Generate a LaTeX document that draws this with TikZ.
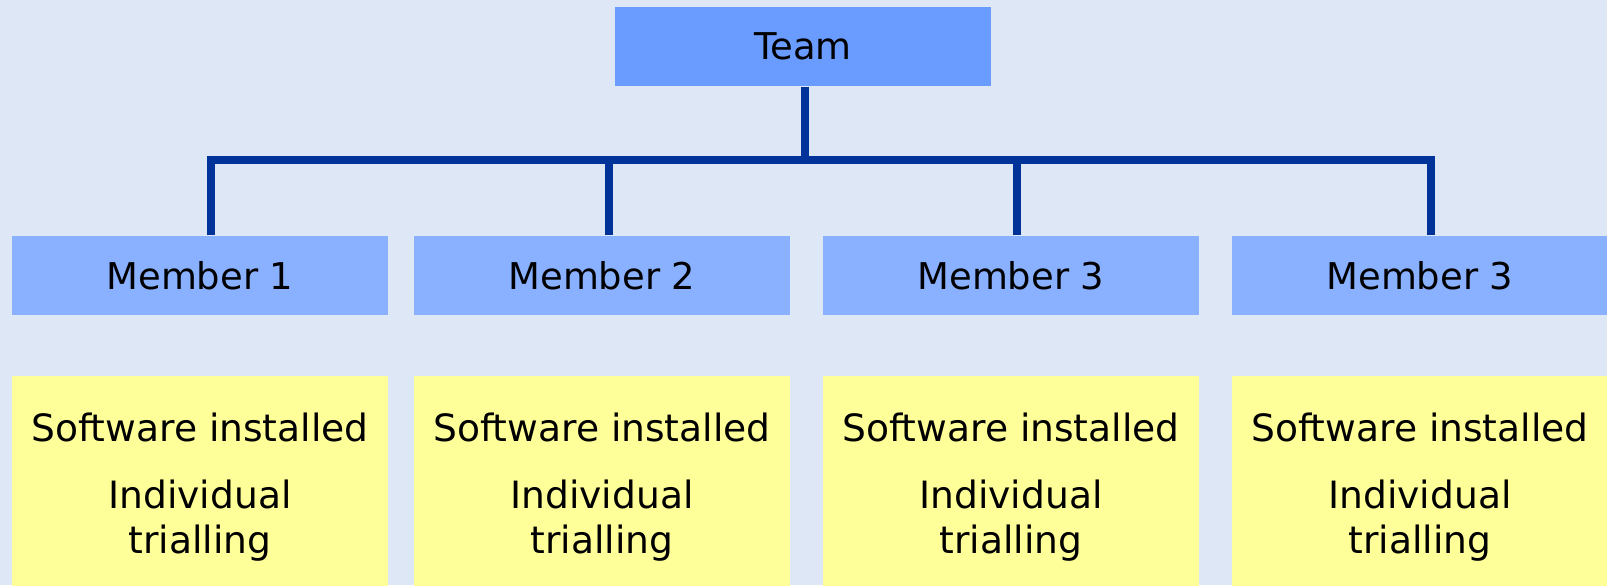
\documentclass[tikz,border=0pt]{standalone}
\usepackage{fontspec}
\setmainfont{DejaVu Sans}
\definecolor{bgblue}{RGB}{222, 231, 245}
\definecolor{teamblue}{RGB}{106, 156, 255}
\definecolor{memberblue}{RGB}{138, 177, 255}
\definecolor{noteyellow}{RGB}{255, 255, 153}
\definecolor{linkblue}{RGB}{0, 51, 153}
\usetikzlibrary{positioning}
\tikzset{
  teambox/.style={fill=teamblue, minimum width=3.76cm, minimum height=0.79cm, inner sep=0pt, font=\fontsize{10.5}{12.8}\selectfont},
  memberbox/.style={fill=memberblue, minimum width=3.76cm, minimum height=0.79cm, inner sep=0pt, font=\fontsize{10.5}{12.8}\selectfont},
  notebox/.style={fill=noteyellow, minimum width=3.76cm, minimum height=2.1cm, inner sep=0pt, align=center, font=\fontsize{10.7}{12.8}\selectfont},
  link/.style={draw=linkblue, line width=0.08cm}
}

\begin{document}
\begin{tikzpicture}[node distance=0.6cm]
  \useasboundingbox (0, 0) rectangle (16.07, -5.85);
  \fill[bgblue] (0, 0) rectangle (16.07, -5.85);

  % Team
  \node[teambox] (team) at (8.03, -0.465) {Team};
  \coordinate (bar) at (8.05, -1.60);

  % Members
  \node[memberbox] (m1) at (2.00, -2.755) {Member 1};
  \node[memberbox] (m2) at (6.02, -2.755) {Member 2};
  \node[memberbox] (m3) at (10.11, -2.755) {Member 3};
  \node[memberbox] (m4) at (14.20, -2.755) {Member 3};

  % Notes
  \node[notebox, below=of m1] (n1) {\rule{0pt}{11.6pt}Software installed\\[6.3pt]Individual\\trialling};
  \node[notebox, below=of m2] (n2) {\rule{0pt}{11.6pt}Software installed\\[6.3pt]Individual\\trialling};
  \node[notebox, below=of m3] (n3) {\rule{0pt}{11.6pt}Software installed\\[6.3pt]Individual\\trialling};
  \node[notebox, below=of m4] (n4) {\rule{0pt}{11.6pt}Software installed\\[6.3pt]Individual\\trialling};

  % Links
  \draw[link] ([xshift=0.02cm]team.south) -- (bar);
  \draw[link] ([xshift=0.11cm]m1.north) |- (bar);
  \draw[link] ([xshift=0.07cm]m2.north) |- (bar);
  \draw[link] ([xshift=0.06cm]m3.north) |- (bar);
  \draw[link] ([xshift=0.11cm]m4.north) |- (bar);
\end{tikzpicture}
\end{document}
